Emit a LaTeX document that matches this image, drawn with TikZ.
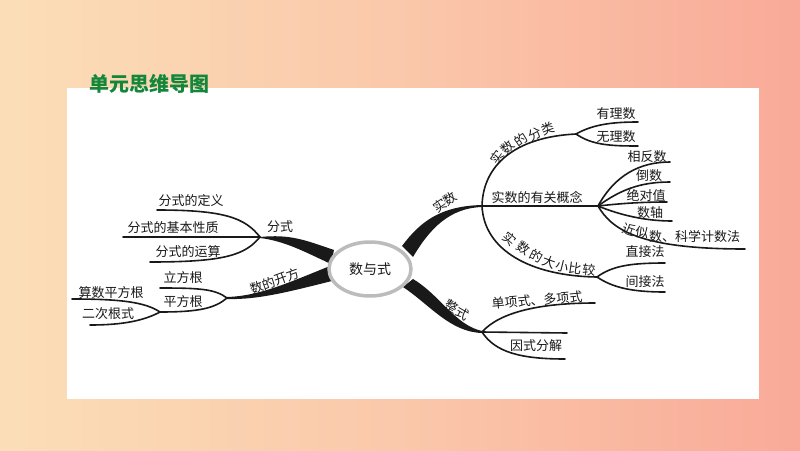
\documentclass[tikz,border=0pt]{standalone}
\usepackage{fontspec}
\setmainfont{Noto Sans CJK SC}
\usetikzlibrary{shapes.geometric}
\definecolor{ink}{RGB}{25,25,25}
\definecolor{ring}{RGB}{188,188,188}
\definecolor{titlegreen}{RGB}{18,135,58}
\definecolor{bgL}{RGB}{251,222,184}
\definecolor{bgM}{RGB}{250,200,170}
\definecolor{bgR}{RGB}{249,170,152}
\begin{document}
\begin{tikzpicture}[x=1pt,y=-1pt,
  lbl/.style={font=\fontsize{13}{13}\selectfont, text=ink, inner sep=0pt},
  ch/.style={font=\fontsize{13}{13}\selectfont, text=ink, inner sep=0pt},
  br/.style={draw=ink, line width=1.6pt, line cap=round},
  trunk/.style={fill=ink, draw=none}]
% background
\shade[left color=bgL, right color=bgR, middle color=bgM] (0,0) rectangle (800,450);
\useasboundingbox (0,0) rectangle (800,450);
\fill[white] (67,88) rectangle (759,399);
\node[font=\fontsize{20}{20}\selectfont\bfseries, text=titlegreen, anchor=west, inner sep=0pt] (title) at (89,84) {单元思维导图};

% coordinates
\coordinate (J1) at (260,237);
\coordinate (J2) at (227,298);
\coordinate (J3) at (482,206);
\coordinate (J4) at (482,332);
\coordinate (C1) at (576,134);
\coordinate (C2) at (598,206);
\coordinate (C3) at (597,277);
\coordinate (C4) at (160,312);

% trunks
\fill[trunk] (J1) .. controls (290,234) and (305,240) .. (334,250) -- (331,264) .. controls (305,252) and (285,241) .. (260,238) -- cycle;
\fill[trunk] (227,297) .. controls (260,296) and (290,282) .. (330,266) -- (332,281) .. controls (295,290) and (260,300) .. (227,299) -- cycle;
\fill[trunk] (402,246) .. controls (420,222) and (440,206) .. (482,205) -- (482,207) .. controls (450,208) and (430,228) .. (413,257) -- cycle;
\fill[trunk] (413,279) .. controls (440,295) and (455,325) .. (482,331) -- (482,333) .. controls (450,332) and (430,305) .. (403,287) -- cycle;

% center
\node[ellipse, draw=ring, line width=3.5pt, fill=white, minimum width=82pt, minimum height=54pt, font=\fontsize{14}{14}\selectfont, text=ink] (center) at (370,269) {数与式};

% trunk labels
\node[lbl] (fenshi) at (280,227) {分式};
\node[lbl, rotate=20] (kaifang) at (275,281) {数的开方};
\node[lbl, rotate=35] (shishu) at (445,202) {实数};
\node[lbl, rotate=-30] (zhengshi) at (457,310) {整式};

% left: fenshi
\draw[br] (J1) .. controls (245,218) and (225,210) .. (157,210);
\draw[br] (J1) -- (123,237);
\draw[br] (J1) .. controls (245,255) and (225,262) .. (150,262);
\node[lbl] (f1) at (191,201) {分式的定义};
\node[lbl] (f2) at (173,228) {分式的基本性质};
\node[lbl] (f3) at (188,252) {分式的运算};

% left: kaifang
\draw[br] (J2) .. controls (215,289) and (200,288) .. (160,288);
\draw[br] (J2) .. controls (215,308) and (200,312) .. (C4);
\draw[br] (C4) .. controls (145,302) and (120,299) .. (72,299);
\draw[br] (C4) .. controls (145,320) and (125,325) .. (90,325);
\node[lbl] (k1) at (183,278) {立方根};
\node[lbl] (k2) at (183,302) {平方根};
\node[lbl] (k3) at (111,293) {算数平方根};
\node[lbl] (k4) at (108,314) {二次根式};

% right: shishu - classification arc
\draw[br] (J3) .. controls (483,165) and (515,137) .. (C1);
\node[ch, rotate=55] (a1) at (497,157) {实};
\node[ch, rotate=45] (a2) at (508,147) {数};
\node[ch, rotate=35] (a3) at (521,140) {的};
\node[ch, rotate=27] (a4) at (535,134) {分};
\node[ch, rotate=20] (a5) at (548,129) {类};
\draw[br] (C1) .. controls (592,125) and (610,122) .. (638,122);
\draw[br] (C1) .. controls (592,145) and (610,146) .. (638,146);
\node[lbl] (s1) at (616,114) {有理数};
\node[lbl] (s2) at (616,137) {无理数};

% concepts
\draw[br, line width=2.4pt] (J3) -- (C2);
\node[lbl] (s3) at (537,197) {实数的有关概念};
\draw[br] (C2) .. controls (615,175) and (640,162) .. (670,162);
\draw[br] (C2) .. controls (620,190) and (640,182) .. (670,182);
\draw[br] (C2) .. controls (625,203) and (645,202) .. (667,202);
\draw[br] (C2) .. controls (620,215) and (645,221) .. (672,221);
\draw[br] (C2) .. controls (612,230) and (640,249) .. (745,249);
\node[lbl] (g1) at (647,157) {相反数};
\node[lbl] (g2) at (649,176) {倒数};
\node[lbl] (g3) at (646,195) {绝对值};
\node[lbl] (g4) at (650,213) {数轴};
\node[ch, rotate=-18] (g5a) at (629,230) {近};
\node[ch, rotate=-8] (g5b) at (642,233) {似};
\node[lbl, anchor=west] (g5c) at (649,237) {数、科学计数法};

% comparison arc
\draw[br] (J3) .. controls (484,250) and (530,276) .. (C3);
\node[ch, rotate=-40] (b1) at (510,239) {实};
\node[ch, rotate=-34] (b2) at (524,248) {数};
\node[ch, rotate=-27] (b3) at (537,256) {的};
\node[ch, rotate=-20] (b4) at (549,262) {大};
\node[ch, rotate=-14] (b5) at (562,266) {小};
\node[ch, rotate=-8] (b6) at (575,268) {比};
\node[ch, rotate=-4] (b7) at (589,270) {较};
\draw[br] (C3) .. controls (612,266) and (630,263) .. (665,263);
\draw[br] (C3) .. controls (612,287) and (630,292) .. (665,292);
\node[lbl] (d1) at (645,252) {直接法};
\node[lbl] (d2) at (645,282) {间接法};

% right: zhengshi
\draw[br] (J4) .. controls (500,312) and (540,303) .. (595,303);
\draw[br] (J4) -- (567,333);
\draw[br] (J4) .. controls (495,352) and (520,359) .. (565,359);
\node[lbl, rotate=5] (z1) at (537,300) {单项式、多项式};
\node[lbl] (z2) at (536,346) {因式分解};
\end{tikzpicture}
\end{document}
